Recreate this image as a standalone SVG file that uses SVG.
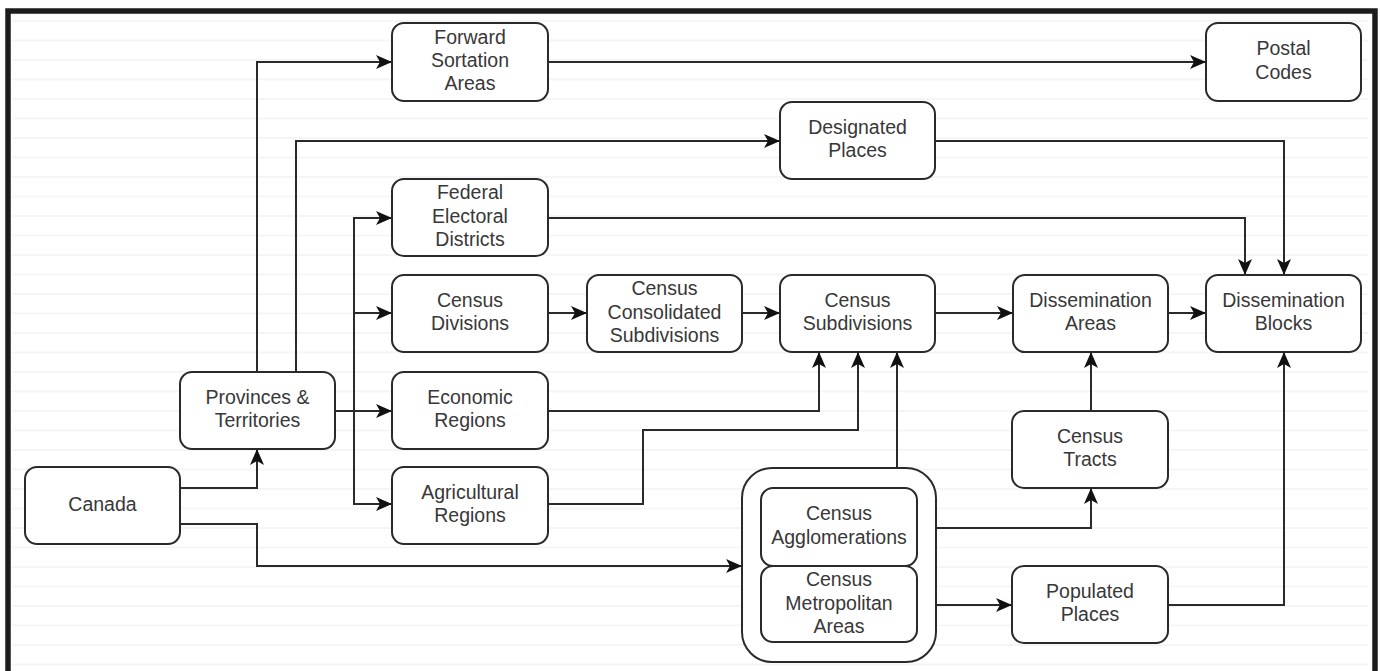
<svg xmlns="http://www.w3.org/2000/svg" width="1380" height="671" viewBox="0 0 1380 671">
<style>
.box{fill:#ffffff;stroke:#2a2a2a;stroke-width:2}
.lbl{font-family:"Liberation Sans",Arial,Helvetica,sans-serif;font-size:19.5px;fill:#383838;text-anchor:middle}
.c{fill:none;stroke:#2a2a2a;stroke-width:2;marker-end:url(#arr)}
</style>
<defs>
<pattern id="stripes" patternUnits="userSpaceOnUse" x="0" y="20" width="20" height="19.5">
<rect x="0" y="0" width="20" height="2" fill="#f5f5f5"/>
</pattern>
<marker id="arr" markerUnits="userSpaceOnUse" markerWidth="18" markerHeight="14" refX="16" refY="7" orient="auto">
<path d="M0,0 L16,7 L0,14 L4,7 Z" fill="#111111"/>
</marker>
</defs>
<rect x="0" y="0" width="1380" height="671" fill="#ffffff"/>
<rect x="12" y="14" width="1356" height="657" fill="url(#stripes)"/>
<path d="M8,675 V11 H1375 V675" fill="none" stroke="#1c1c1c" stroke-width="5.5"/>

<g id="connectors">
<path class="c" d="M180,488 H257 V449"/>
<path class="c" d="M180,524 H257 V566 H742"/>
<path class="c" d="M257,372 V62 H392"/>
<path class="c" d="M296,372 V141 H780"/>
<path class="c" d="M335,411 H392"/>
<path class="c" d="M335,411 H354 V218 H392"/>
<path class="c" d="M335,411 H354 V313 H392"/>
<path class="c" d="M335,411 H354 V504 H392"/>
<path class="c" d="M548,62 H1206"/>
<path class="c" d="M935,141 H1284 V275"/>
<path class="c" d="M548,218 H1245 V275"/>
<path class="c" d="M548,313 H587"/>
<path class="c" d="M742,313 H780"/>
<path class="c" d="M935,313 H1013"/>
<path class="c" d="M1168,313 H1206"/>
<path class="c" d="M548,411 H819 V352"/>
<path class="c" d="M548,504 H643 V430 H858 V352"/>
<path class="c" d="M897,468 V352"/>
<path class="c" d="M936,528 H1091 V488"/>
<path class="c" d="M1091,411 V352"/>
<path class="c" d="M936,605 H1012"/>
<path class="c" d="M1168,605 H1284 V352"/>
</g>

<g id="fsa"><rect class="box" x="392" y="23" width="156" height="78" rx="12"/>
<text class="lbl" x="470" y="43.6">Forward</text><text class="lbl" x="470" y="67">Sortation</text><text class="lbl" x="470" y="90.4">Areas</text></g>
<g id="postal"><rect class="box" x="1206" y="23" width="155" height="78" rx="12"/>
<text class="lbl" x="1283.5" y="55.3">Postal</text><text class="lbl" x="1283.5" y="78.7">Codes</text></g>
<g id="designated"><rect class="box" x="780" y="102" width="155" height="77" rx="12"/>
<text class="lbl" x="857.5" y="133.8">Designated</text><text class="lbl" x="857.5" y="157.2">Places</text></g>
<g id="fed"><rect class="box" x="392" y="179" width="156" height="77" rx="12"/>
<text class="lbl" x="470" y="199.1">Federal</text><text class="lbl" x="470" y="222.5">Electoral</text><text class="lbl" x="470" y="245.9">Districts</text></g>
<g id="cd"><rect class="box" x="392" y="275" width="156" height="77" rx="12"/>
<text class="lbl" x="470" y="306.8">Census</text><text class="lbl" x="470" y="330.2">Divisions</text></g>
<g id="ccs"><rect class="box" x="587" y="275" width="155" height="77" rx="12"/>
<text class="lbl" x="664.5" y="295.1">Census</text><text class="lbl" x="664.5" y="318.5">Consolidated</text><text class="lbl" x="664.5" y="341.9">Subdivisions</text></g>
<g id="csd"><rect class="box" x="780" y="275" width="155" height="77" rx="12"/>
<text class="lbl" x="857.5" y="306.8">Census</text><text class="lbl" x="857.5" y="330.2">Subdivisions</text></g>
<g id="da"><rect class="box" x="1013" y="275" width="155" height="77" rx="12"/>
<text class="lbl" x="1090.5" y="306.8">Dissemination</text><text class="lbl" x="1090.5" y="330.2">Areas</text></g>
<g id="db"><rect class="box" x="1206" y="275" width="155" height="77" rx="12"/>
<text class="lbl" x="1283.5" y="306.8">Dissemination</text><text class="lbl" x="1283.5" y="330.2">Blocks</text></g>
<g id="provinces"><rect class="box" x="180" y="372" width="155" height="77" rx="12"/>
<text class="lbl" x="257.5" y="403.8">Provinces &amp;</text><text class="lbl" x="257.5" y="427.2">Territories</text></g>
<g id="economic"><rect class="box" x="392" y="372" width="156" height="77" rx="12"/>
<text class="lbl" x="470" y="403.8">Economic</text><text class="lbl" x="470" y="427.2">Regions</text></g>
<g id="tracts"><rect class="box" x="1012" y="411" width="156" height="77" rx="12"/>
<text class="lbl" x="1090" y="442.8">Census</text><text class="lbl" x="1090" y="466.2">Tracts</text></g>
<g id="canada"><rect class="box" x="25" y="467" width="155" height="77" rx="12"/>
<text class="lbl" x="102.5" y="510.5">Canada</text></g>
<g id="agricultural"><rect class="box" x="392" y="467" width="156" height="77" rx="12"/>
<text class="lbl" x="470" y="498.8">Agricultural</text><text class="lbl" x="470" y="522.2">Regions</text></g>
<g id="cma-container"><rect class="box" x="742" y="468" width="194" height="194" rx="30"/>
<g id="agglomerations"><rect class="box" x="761" y="488" width="156" height="78" rx="12"/>
<text class="lbl" x="839" y="520.3">Census</text><text class="lbl" x="839" y="543.7">Agglomerations</text></g>
<g id="metropolitan"><rect class="box" x="761" y="566" width="156" height="76" rx="12"/>
<text class="lbl" x="839" y="586.1">Census</text><text class="lbl" x="839" y="609.5">Metropolitan</text><text class="lbl" x="839" y="632.9">Areas</text></g>
</g>
<g id="populated"><rect class="box" x="1012" y="566" width="156" height="77" rx="12"/>
<text class="lbl" x="1090" y="597.8">Populated</text><text class="lbl" x="1090" y="621.2">Places</text></g>
</svg>
